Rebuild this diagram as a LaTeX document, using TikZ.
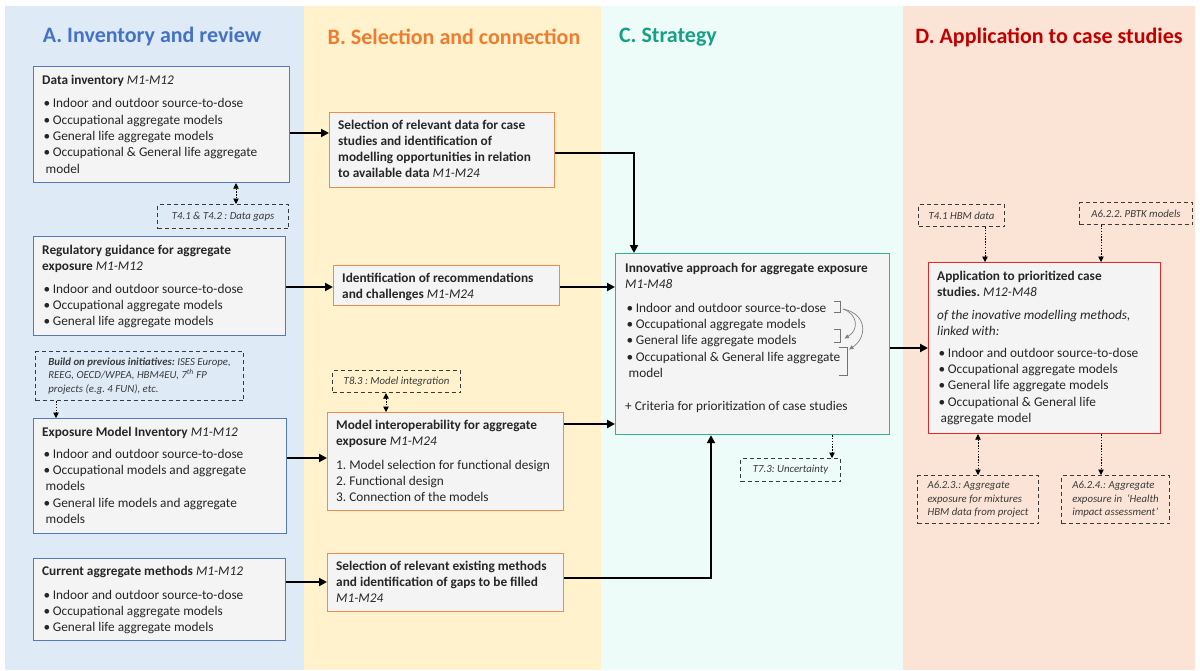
\documentclass[tikz,border=0pt]{standalone}
\usepackage{fontspec}
\setmainfont{Carlito}
\usetikzlibrary{arrows.meta,calc}

\definecolor{bgA}{HTML}{DEEBF7}
\definecolor{bgB}{HTML}{FFF2CC}
\definecolor{bgC}{HTML}{EDFCF9}
\definecolor{bgD}{HTML}{FBE4D6}
\definecolor{titA}{HTML}{4472C4}
\definecolor{titB}{HTML}{ED7D31}
\definecolor{titC}{HTML}{16A085}
\definecolor{titD}{HTML}{C00000}
\definecolor{boxfill}{HTML}{F4F4F4}
\definecolor{lineA}{HTML}{5579BE}
\definecolor{lineB}{HTML}{F08B4E}
\definecolor{lineC}{HTML}{2EB39A}
\definecolor{lineD}{HTML}{E02A2A}
\definecolor{txt}{HTML}{262626}
\definecolor{note}{HTML}{3A3A3A}

\newcommand{\bul}{\hspace*{1.5pt}\makebox[9.2pt][l]{\textbullet}}
\newcommand{\wrapind}{\hspace*{3.5pt}}

\tikzset{
  coltitle/.style={font=\fontsize{22}{26}\selectfont\bfseries},
  boxbase/.style={draw, fill=boxfill, line width=1.2pt, anchor=north west, inner sep=0pt},
  boxA/.style={boxbase, draw=lineA},
  boxB/.style={boxbase, draw=lineB},
  boxC/.style={boxbase, draw=lineC},
  boxD/.style={boxbase, draw=lineD},
  boxtext/.style={anchor=north west, inner sep=0pt, align=left, text=txt,
    font=\fontsize{13.3}{16.3}\selectfont},
  notebox/.style={draw=note, dash pattern=on 4pt off 3pt, line width=1.1pt,
    anchor=north west, inner sep=0pt, text=note,
    font=\fontsize{10.8}{13.4}\selectfont\itshape},
  notemulti/.style={notebox, align=left},
  flow/.style={line width=2.4pt, -{Triangle[length=8pt,width=8pt]}},
  dotflow/.style={line width=0.7pt, dash pattern=on 1.4pt off 1.4pt,
    -{Triangle[length=5.5pt,width=5.5pt]}},
  dotboth/.style={line width=0.7pt, dash pattern=on 1.4pt off 1.4pt,
    {Triangle[length=5.5pt,width=5.5pt]}-{Triangle[length=5.5pt,width=5.5pt]}},
  brk/.style={draw=black!55, line width=0.8pt},
  curvelink/.style={draw=black!50, line width=0.7pt, -{Triangle[length=4.5pt,width=4pt]}},
}

\begin{document}
\frenchspacing
\begin{tikzpicture}[x=1pt,y=-1pt]
\useasboundingbox (0,0) rectangle (1200,670);
\fill[white] (0,0) rectangle (1200,670);

% column backgrounds
\fill[bgA] (5,6) rectangle (304,670);
\fill[bgB] (304,6) rectangle (601,670);
\fill[bgC] (601,6) rectangle (903,670);
\fill[bgD] (903,6) rectangle (1195,670);

% column titles
\node[coltitle, text=titA] (tA) at (152,37) {A. Inventory and review};
\node[coltitle, text=titB] (tB) at (454,37) {B. Selection and connection};
\node[coltitle, text=titC] (tC) at (668,37) {C. Strategy};
\node[coltitle, text=titD] (tD) at (1049,37) {D. Application to case studies};

% ---------- A. inventory boxes ----------
\node[boxA, minimum width=256, minimum height=116] (inv) at (33,66) {};
\node[boxtext] (invT) at ([shift={(9,8.5)}]inv.north west)
  {\textbf{Data inventory} \textit{M1-M12}\\[7.5pt]
   \bul Indoor and outdoor source-to-dose\\
   \bul Occupational aggregate models\\
   \bul General life aggregate models\\
   \bul Occupational \& General life aggregate\\
   \wrapind model};

\node[notebox, minimum width=131, minimum height=24] (gaps) at (157,204)
  {T4.1 \& T4.2 : Data gaps};

\node[boxA, minimum width=252, minimum height=99] (reg) at (33,236) {};
\node[boxtext] (regT) at ([shift={(9,8.5)}]reg.north west)
  {\textbf{Regulatory guidance for aggregate}\\
   \textbf{exposure} \textit{M1-M12}\\[6.5pt]
   \bul Indoor and outdoor source-to-dose\\
   \bul Occupational aggregate models\\
   \bul General life aggregate models};

\node[notemulti, minimum width=208, minimum height=49] (build) at (35,351)
  {\textbf{Build on previous initiatives:} ISES Europe,\\
   REEG, OECD/WPEA, HBM4EU, 7\textsuperscript{th} FP\\
   projects (e.g. 4 FUN), etc.};

\node[boxA, minimum width=253, minimum height=115] (exp) at (33,418) {};
\node[boxtext] (expT) at ([shift={(9,8.5)}]exp.north west)
  {\textbf{Exposure Model Inventory} \textit{M1-M12}\\[6pt]
   \bul Indoor and outdoor source-to-dose\\
   \bul Occupational models and aggregate\\
   \wrapind models\\
   \bul General life models and aggregate\\
   \wrapind models};

\node[boxA, minimum width=252, minimum height=82] (cur) at (33,558) {};
\node[boxtext] (curT) at ([shift={(9,8)}]cur.north west)
  {\textbf{Current aggregate methods} \textit{M1-M12}\\[7.5pt]
   \bul Indoor and outdoor source-to-dose\\
   \bul Occupational aggregate models\\
   \bul General life aggregate models};

% ---------- B. selection boxes ----------
\node[boxB, minimum width=225, minimum height=75] (sel) at (329,112) {};
\node[boxtext] (selT) at ([shift={(9,7.5)}]sel.north west)
  {\textbf{Selection of relevant data for case}\\
   \textbf{studies and identification of}\\
   \textbf{modelling opportunities in relation}\\
   \textbf{to available data} \textit{M1-M24}};

\node[boxB, minimum width=226, minimum height=40] (rec) at (333,265) {};
\node[boxtext] (recT) at ([shift={(9,8)}]rec.north west)
  {\textbf{Identification of recommendations}\\
   \textbf{and challenges} \textit{M1-M24}};

\node[notebox, minimum width=128, minimum height=22] (t83) at (332,370)
  {T8.3 : Model integration};

\node[boxB, minimum width=236, minimum height=98] (mi) at (327,412) {};
\node[boxtext] (miT) at ([shift={(9,7.5)}]mi.north west)
  {\textbf{Model interoperability for aggregate}\\
   \textbf{exposure} \textit{M1-M24}\\[7.5pt]
   1. Model selection for functional design\\
   2. Functional design\\
   3. Connection of the models};

\node[boxB, minimum width=236, minimum height=58] (sem) at (327,553) {};
\node[boxtext] (semT) at ([shift={(9,7.5)}]sem.north west)
  {\textbf{Selection of relevant existing methods}\\
   \textbf{and identification of gaps to be filled}\\
   \textit{M1-M24}};

% ---------- C. strategy ----------
\node[boxC, minimum width=274, minimum height=181] (strat) at (615,253) {};
\node[boxtext] (stratT) at ([shift={(10,9.5)}]strat.north west)
  {\textbf{Innovative approach for aggregate exposure}\\
   \textit{M1-M48}\\[7.5pt]
   \bul Indoor and outdoor source-to-dose\\
   \bul Occupational aggregate models\\
   \bul General life aggregate models\\
   \bul Occupational \& General life aggregate\\
   \wrapind model\\[16.5pt]
   + Criteria for prioritization of case studies};

% grouping brackets and the links between them
\draw[brk] (834,301.5) -- (840,301.5) -- (840,312) -- (834,312);
\draw[brk] (834,329.5) -- (840,329.5) -- (840,342) -- (834,342);
\draw[brk] (839,347.5) -- (847,347.5) -- (847,375) -- (839,375);
\coordinate (bk1) at (843,309);
\coordinate (bk2) at (844.5,338.5);
\coordinate (bk3) at (849,349.5);
\draw[curvelink] (bk1) .. controls (858,314) and (859,330) .. (bk2);
\draw[curvelink] (bk1) .. controls (868,314) and (867,338) .. (bk3);

\node[notebox, minimum width=100, minimum height=23] (t73) at (740,458)
  {T7.3: Uncertainty};

% ---------- D. application ----------
\node[notebox, minimum width=86, minimum height=22] (hbm) at (918,204)
  {T4.1 HBM data};
\node[notebox, minimum width=113, minimum height=22] (pbtk) at (1079,202)
  {A6.2.2. PBTK models};

\node[boxD, minimum width=232, minimum height=171] (app) at (928,262) {};
\node[boxtext] (appT) at ([shift={(9,8.5)}]app.north west)
  {\textbf{Application to prioritized case}\\
   \textbf{studies.} \textit{M12-M48}\\[6.5pt]
   \textit{of the inovative modelling methods,}\\
   \textit{linked with:}\\[5.5pt]
   \bul Indoor and outdoor source-to-dose\\
   \bul Occupational aggregate models\\
   \bul General life aggregate models\\
   \bul Occupational \& General life\\
   \wrapind aggregate model};

\node[notemulti, minimum width=121, minimum height=48] (a623) at (917,475)
  {A6.2.3.: Aggregate\\
   exposure for mixtures\\
   HBM data from project};
\node[notemulti, minimum width=108, minimum height=48] (a624) at (1061,475)
  {A6.2.4.: Aggregate\\
   exposure in \ `Health\\
   impact assessment'};

% ---------- solid flow connectors ----------
\draw[flow] (inv.east |- 0,133) -- (sel.west |- 0,133);
\draw[flow] (reg.east |- 0,287) -- (rec.west |- 0,287);
\draw[flow] (exp.east |- 0,458) -- (mi.west |- 0,458);
\draw[flow] (cur.east |- 0,582) -- (sem.west |- 0,582);
\draw[flow] (sel.east |- 0,153) -| (strat.north -| 634,0);
\draw[flow] (rec.east |- 0,287) -- (strat.west |- 0,287);
\draw[flow] (mi.east |- 0,424) -- (strat.west |- 0,424);
\draw[flow] (sem.east |- 0,578) -| (strat.south -| 711,0);
\draw[flow] (strat.east |- 0,348) -- (app.west |- 0,348);

% ---------- dotted links to tasks ----------
\draw[dotboth] (inv.south -| 236,0) -- (gaps.north -| 236,0);
\draw[dotflow] (build.south -| 56,0) -- (exp.north -| 56,0);
\draw[dotboth] (t83.south -| 386,0) -- (mi.north -| 386,0);
\draw[dotflow] (strat.south -| 832,0) -- (t73.north -| 832,0);
\draw[dotflow] (hbm.south -| 985,0) -- (app.north -| 985,0);
\draw[dotflow] (pbtk.south -| 1101,0) -- (app.north -| 1101,0);
\draw[dotboth] (app.south -| 978,0) -- (a623.north -| 978,0);
\draw[dotflow] (app.south -| 1101,0) -- (a624.north -| 1101,0);
\end{tikzpicture}
\end{document}
